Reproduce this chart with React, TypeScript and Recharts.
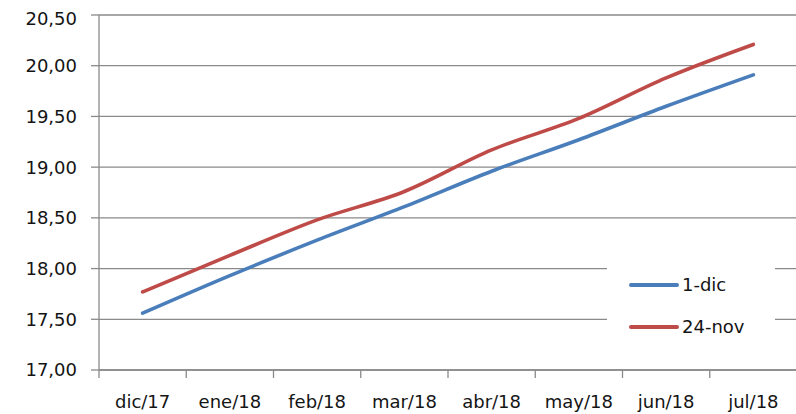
import React from 'react';
import { LineChart, Line, XAxis, YAxis, CartesianGrid, Legend } from 'recharts';

const categories = ['dic/17', 'ene/18', 'feb/18', 'mar/18', 'abr/18', 'may/18', 'jun/18', 'jul/18'];
const serie1Dic = [17.56, 17.93, 18.28, 18.61, 18.96, 19.27, 19.6, 19.91];
const serie24Nov = [17.77, 18.13, 18.48, 18.76, 19.17, 19.48, 19.88, 20.21];
const yTicks = [17, 17.5, 18, 18.5, 19, 19.5, 20, 20.5];

const data = categories.map((c, i) => ({ cat: c, d1: serie1Dic[i], n24: serie24Nov[i] }));

const FONT = '"DejaVu Sans", sans-serif';
const GRID = '#8a8a8a';
const TEXT = '#141414';
const CHART_W = 800;
const CHART_H = 406;
const Y_W = 91;
const M_RIGHT = 11;
const PLOT_W = CHART_W - Y_W - M_RIGHT;
const HALF_BAND = PLOT_W / categories.length / 2;

const fmt = (v: number) => v.toFixed(2).replace('.', ',');

const XTick = (props: any) => {
  const { x, y, payload, index } = props;
  const top = y - 8;
  return (
    <g>
      <line x1={x - HALF_BAND} x2={x - HALF_BAND} y1={top} y2={top + 8} stroke={GRID} strokeWidth={1.3} />
      {index === categories.length - 1 && (
        <line x1={x + HALF_BAND} x2={x + HALF_BAND} y1={top} y2={top + 8} stroke={GRID} strokeWidth={1.3} />
      )}
      <text x={x} y={top + 38} textAnchor="middle" fill={TEXT} fontFamily={FONT} fontSize={18}>
        {payload.value}
      </text>
    </g>
  );
};

const renderLegend = (props: any) => {
  const { payload } = props;
  return (
    <div style={{ background: '#fff', width: 168, height: 100, position: 'relative' }}>
      {(payload || []).map((p: any, i: number) => (
        <div
          key={i}
          style={{ position: 'absolute', left: 22, top: 20 + i * 42, height: 20, display: 'flex', alignItems: 'center' }}
        >
          <span style={{ display: 'inline-block', width: 50, height: 4, borderRadius: 2, background: p.color }} />
          <span style={{ marginLeft: 3, fontSize: 18, fontFamily: FONT, color: TEXT, lineHeight: '20px' }}>{p.value}</span>
        </div>
      ))}
    </div>
  );
};

export default function App() {
  return (
    <div
      style={{
        position: 'absolute',
        left: 8,
        top: 8,
        width: 788,
        height: CHART_H,
        overflow: 'hidden',
        background: '#fff',
      }}
    >
      <LineChart width={CHART_W} height={CHART_H} data={data} margin={{ top: 7, right: M_RIGHT, bottom: 0, left: 0 }}>
        <CartesianGrid vertical={false} stroke={GRID} strokeWidth={1.3} />
        <XAxis
          dataKey="cat"
          height={44}
          padding={{ left: HALF_BAND, right: HALF_BAND }}
          axisLine={{ stroke: GRID, strokeWidth: 1.3 }}
          tickLine={false}
          tick={<XTick />}
          interval={0}
        />
        <YAxis
          width={Y_W}
          domain={[17, 20.5]}
          ticks={yTicks}
          tickFormatter={fmt}
          axisLine={{ stroke: GRID, strokeWidth: 1.3 }}
          tickLine={{ stroke: GRID, strokeWidth: 1.3 }}
          tickSize={8}
          tickMargin={14}
          tick={{ fill: TEXT, fontFamily: FONT, fontSize: 18 }}
          allowDataOverflow
        />
        <Legend
          layout="horizontal"
          verticalAlign="middle"
          align="center"
          content={renderLegend}
          wrapperStyle={{ left: 599, top: 247, width: 168, height: 100 }}
        />
        <Line
          type="monotone"
          dataKey="d1"
          name="1-dic"
          stroke="#4A7EBB"
          strokeWidth={3.6}
          dot={false}
          strokeLinecap="round"
          isAnimationActive={false}
        />
        <Line
          type="monotone"
          dataKey="n24"
          name="24-nov"
          stroke="#BE4B48"
          strokeWidth={3.6}
          dot={false}
          strokeLinecap="round"
          isAnimationActive={false}
        />
      </LineChart>
    </div>
  );
}
